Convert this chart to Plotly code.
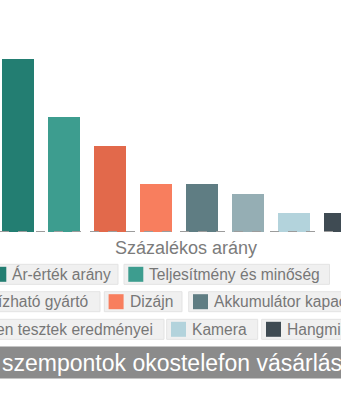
import plotly.graph_objects as go

categories = ["Ár-érték arány", "Teljesítmény és minőség", "Megbízható gyártó", "Dizájn",
              "Akkumulátor kapacitás", "Független tesztek eredményei", "Kamera", "Hangminőség"]
values = [36, 24, 18, 10, 10, 8, 4, 4]
colors = ["#237e72", "#3d9d8f", "#e2694b", "#f87e5e", "#5f7d83", "#95aeb4", "#b3d3dc", "#3f4b53"]
title_hidden = "Fontos"
title_text = "szempontok okostelefon vásárlásakor"
axis_title = "Százalékos arány"

W, H = 341, 400
TOP, BASE = 30, 232

def px(x):
    return x / W

def py(y):
    return (BASE - y) / (BASE - TOP)

fig = go.Figure(go.Bar(x=categories, y=values, marker=dict(color=colors, line=dict(width=0)),
                       width=0.696, showlegend=False, hoverinfo="x+y"))

shapes = []
annotations = []

# dashed baseline
shapes.append(dict(type="line", xref="paper", yref="y", x0=0, x1=1, y0=0, y1=0,
                   line=dict(color="#9c9c9c", width=2, dash="dash"), layer="above"))

# axis title
annotations.append(dict(text=axis_title, xref="paper", yref="paper", x=px(185.7), y=py(248),
                        xanchor="center", yanchor="middle", showarrow=False,
                        font=dict(family="Liberation Sans, Arial", size=18, color="#7b7b7b")))

# legend layout: (category index, box_left, box_right, text anchor mode, text x)
rows = [
    (274.3, [(0, -13, 118, "left", None), (1, 124, 329.5, "left", None)]),
    (301.7, [(2, -200, 100, "right", 90), (3, 104.3, 182, "left", None), (4, 188.7, 500, "left", None)]),
    (329.3, [(5, -250, 164, "right", 155), (6, 166.7, 257.7, "left", None), (7, 261.7, 500, "left", None)]),
]
for yc, items in rows:
    for idx, bl, br, mode, tx in items:
        shapes.append(dict(type="rect", xref="paper", yref="paper", x0=px(bl), x1=px(br),
                           y0=py(yc - 10), y1=py(yc + 10), fillcolor="#f0f0f0",
                           line=dict(color="#e3e3e3", width=1), layer="below"))
        sq_l = bl + 4.3
        if mode == "left":
            shapes.append(dict(type="rect", xref="paper", yref="paper", x0=px(sq_l), x1=px(sq_l + 15),
                               y0=py(yc - 7.5), y1=py(yc + 7.5), fillcolor=colors[idx],
                               line=dict(width=0)))
            ax, anchor = sq_l + 19, "left"
        else:
            ax, anchor = tx, "right"
        annotations.append(dict(text=categories[idx], xref="paper", yref="paper", x=px(ax), y=py(yc),
                                xanchor=anchor, yanchor="middle", showarrow=False,
                                font=dict(family="Liberation Sans, Arial", size=15.6, color="#777777")))

# title bar
shapes.append(dict(type="rect", xref="paper", yref="paper", x0=px(-50), x1=px(400),
                   y0=py(346.5), y1=py(378.5), fillcolor="#8b8b8b", line=dict(width=0)))
annotations.append(dict(text=title_hidden, xref="paper", yref="paper", x=0, xshift=-5, y=py(362.5),
                        xanchor="right", yanchor="middle", showarrow=False,
                        font=dict(family="Liberation Sans, Arial", size=23, color="#ffffff")))
annotations.append(dict(text=title_text, xref="paper", yref="paper", x=0, y=py(362.5),
                        xanchor="left", yanchor="middle", showarrow=False,
                        font=dict(family="Liberation Sans, Arial", size=23, color="#ffffff")))

fig.update_layout(
    width=W, height=H, autosize=False,
    margin=dict(l=0, r=0, t=TOP, b=H - BASE, pad=0),
    paper_bgcolor="#ffffff", plot_bgcolor="#ffffff",
    xaxis=dict(range=[-0.391, 7.022], showticklabels=False, showgrid=False, zeroline=False,
               showline=False, ticks="", fixedrange=True),
    yaxis=dict(range=[0, (BASE - TOP) / 4.8], showticklabels=False, showgrid=False,
               zeroline=False, showline=False, ticks="", fixedrange=True),
    shapes=shapes, annotations=annotations, bargap=0,
)

fig.write_html("out.html", config={"displayModeBar": False})
